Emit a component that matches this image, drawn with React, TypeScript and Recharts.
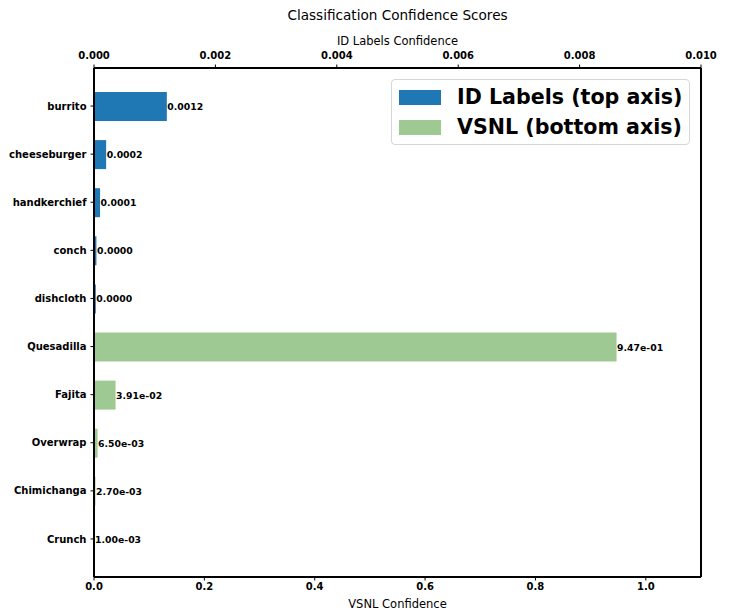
import React from 'react';
import { BarChart, Bar, XAxis, YAxis, LabelList, ReferenceLine } from 'recharts';

const categories = ['burrito', 'cheeseburger', 'handkerchief', 'conch', 'dishcloth', 'Quesadilla', 'Fajita', 'Overwrap', 'Chimichanga', 'Crunch'];
// ID label scores (top axis) and VSNL scores (bottom axis); null where a row belongs to the other model
const idScores = [0.0012, 0.0002, 0.0001, 0.00004, 0.00003, null, null, null, null, null];
const vsnlScores = [null, null, null, null, null, 0.947, 0.0391, 0.0065, 0.0027, 0.001];
const topTicks = [0, 0.002, 0.004, 0.006, 0.008, 0.01];
const bottomTicks = [0, 0.2, 0.4, 0.6, 0.8, 1.0];

const FONT = '"DejaVu Sans", Verdana, sans-serif';
const BLUE = '#1f77b4';
const GREEN = '#9fc992';

const data = categories.map((name, i) => ({ name, id: idScores[i], vsnl: vsnlScores[i] }));

// matplotlib-style exponent: 9.47e-01
const fmtExp = (v: number) => v.toExponential(2).replace(/e([+-])(\d)$/, 'e$10$2');

const makeLabel = (fmt: (v: number) => string) => (props: any) => {
  const { x, y, width, height, value } = props;
  if (value === null || value === undefined) return null;
  return (
    <text
      x={Number(x) + Number(width) + 0.5}
      y={Number(y) + Number(height) / 2}
      dominantBaseline="central"
      fontSize={9.3}
      fontWeight="bold"
      fontFamily={FONT}
      fill="#000"
    >
      {fmt(Number(value))}
    </text>
  );
};

const TopTitle = (props: any) => {
  const vb = props.viewBox || { x: 94, width: 607 };
  const cx = vb.x + vb.width / 2;
  return (
    <g>
      <text x={cx} y={20} textAnchor="middle" fontSize={13.6} fontFamily={FONT} fill="#000">
        Classification Confidence Scores
      </text>
      <text x={cx} y={45} textAnchor="middle" fontSize={11.5} fontFamily={FONT} fill="#000">
        ID Labels Confidence
      </text>
    </g>
  );
};

const BottomTitle = (props: any) => {
  const vb = props.viewBox || { x: 94, width: 607 };
  const cx = vb.x + vb.width / 2;
  return (
    <text x={cx} y={608} textAnchor="middle" fontSize={11.5} fontFamily={FONT} fill="#000">
      VSNL Confidence
    </text>
  );
};

const tickStyle = { fontSize: 10, fontWeight: 'bold', fill: '#000', fontFamily: FONT };
const axisLine = { stroke: '#000', strokeWidth: 2 };
const tickLine = { stroke: '#000' };

const LegendBox = () => (
  <div
    style={{
      position: 'absolute',
      left: 391,
      top: 79,
      width: 297,
      height: 64,
      border: '1px solid #d6d6d6',
      borderRadius: 4,
      background: 'rgba(255,255,255,0.8)',
      fontFamily: FONT,
      fontWeight: 'bold',
      fontSize: 20.6,
      color: '#000',
    }}
  >
    {[
      { label: 'ID Labels (top axis)', color: BLUE, top: 8 },
      { label: 'VSNL (bottom axis)', color: GREEN, top: 38 },
    ].map((item) => (
      <div key={item.label} style={{ position: 'absolute', left: 7, top: item.top, height: 18, display: 'flex', alignItems: 'center' }}>
        <div style={{ width: 42, height: 15, background: item.color }} />
        <span style={{ marginLeft: 16, lineHeight: '18px', whiteSpace: 'nowrap' }}>{item.label}</span>
      </div>
    ))}
  </div>
);

export default function App() {
  return (
    <div style={{ position: 'absolute', left: 0, top: 0, width: 729, height: 614, background: '#fff' }}>
      <BarChart
        width={729}
        height={614}
        data={data}
        layout="vertical"
        margin={{ top: 10, right: 28, bottom: 5, left: 8 }}
      >
        <XAxis
          xAxisId="top"
          orientation="top"
          type="number"
          domain={[0, 0.01]}
          ticks={topTicks}
          tickFormatter={(v: number) => v.toFixed(3)}
          height={58}
          tickSize={3.5}
          tickMargin={6}
          tick={tickStyle}
          axisLine={axisLine}
          tickLine={tickLine}
          allowDataOverflow
          label={<TopTitle />}
        />
        <XAxis
          xAxisId="bottom"
          orientation="bottom"
          type="number"
          domain={[0, 1.1]}
          ticks={bottomTicks}
          tickFormatter={(v: number) => v.toFixed(1)}
          height={32}
          tickSize={3.5}
          tickMargin={2}
          tick={tickStyle}
          axisLine={axisLine}
          tickLine={tickLine}
          allowDataOverflow
          label={<BottomTitle />}
        />
        <YAxis
          yAxisId="a"
          type="category"
          dataKey="name"
          width={86}
          padding={{ top: 14, bottom: 14 }}
          tickSize={3.5}
          tickMargin={4}
          tick={tickStyle}
          axisLine={axisLine}
          tickLine={tickLine}
          interval={0}
        />
        <YAxis yAxisId="b" type="category" dataKey="name" hide padding={{ top: 14, bottom: 14 }} />
        <Bar dataKey="id" xAxisId="top" yAxisId="a" fill={BLUE} barSize={29} isAnimationActive={false}>
          <LabelList dataKey="id" content={makeLabel((v) => v.toFixed(4))} />
        </Bar>
        <Bar dataKey="vsnl" xAxisId="bottom" yAxisId="b" fill={GREEN} barSize={29} isAnimationActive={false}>
          <LabelList dataKey="vsnl" content={makeLabel(fmtExp)} />
        </Bar>
        <ReferenceLine x={1.1} xAxisId="bottom" yAxisId="a" stroke="#000" strokeWidth={2} />
      </BarChart>
      <LegendBox />
    </div>
  );
}
